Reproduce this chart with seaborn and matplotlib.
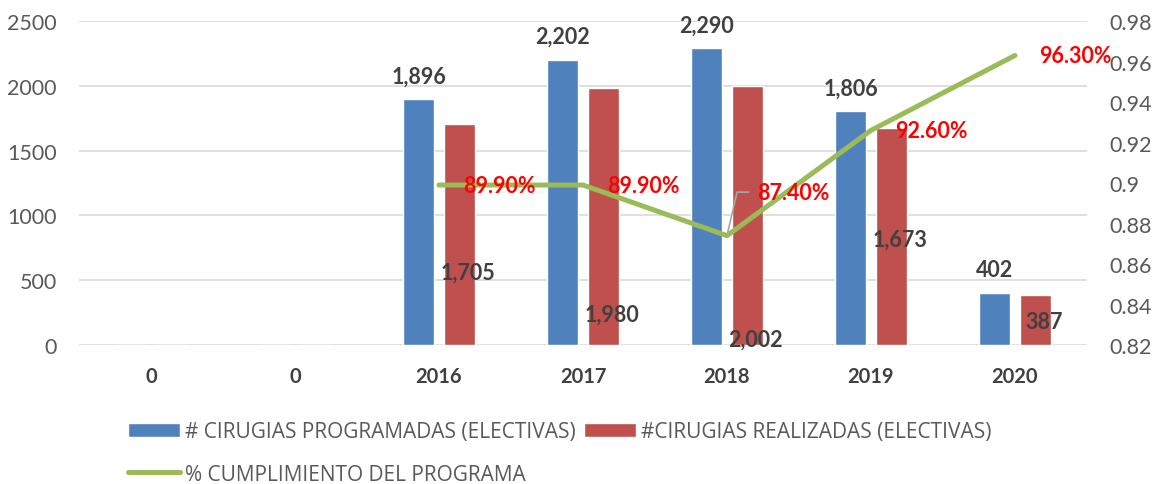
import matplotlib
matplotlib.use("Agg")
import matplotlib.pyplot as plt
import numpy as np
import pandas as pd
import seaborn as sns

# --- data ---
categories = ["0", "0", "2016", "2017", "2018", "2019", "2020"]
programadas = [0, 0, 1896, 2202, 2290, 1806, 402]
realizadas = [0, 0, 1705, 1980, 2002, 1673, 387]
pct_years = ["2016", "2017", "2018", "2019", "2020"]
cumplimiento = [0.899, 0.899, 0.874, 0.926, 0.963]

name_prog = "# CIRUGIAS PROGRAMADAS (ELECTIVAS)"
name_real = "#CIRUGIAS REALIZADAS (ELECTIVAS)"
name_pct = "% CUMPLIMIENTO DEL PROGRAMA"

# label placement (Excel put the red labels in odd places)
real_label_y = [None, None, 563, 239, 46, 818, 185]

blue = "#4F81BD"
red = "#C0504D"
green = "#9BBB59"
grey_text = "#595959"
dark_text = "#404040"

sns.set_style("white")
plt.rcParams["font.family"] = ["Lato", "DejaVu Sans"]

# long format, with unique keys so that the two "0" categories stay apart
keys = [f"k{i}" for i in range(len(categories))]
df = pd.concat(
    [
        pd.DataFrame({"key": keys, "value": programadas, "serie": name_prog}),
        pd.DataFrame({"key": keys, "value": realizadas, "serie": name_real}),
    ],
    ignore_index=True,
)

fig = plt.figure(figsize=(11.56, 4.85), dpi=100)
ax = fig.add_axes([0.0683, 0.2866, 0.872, 0.668])

sns.barplot(
    data=df,
    x="key",
    y="value",
    hue="serie",
    order=keys,
    palette=[blue, red],
    saturation=1,
    width=0.57,
    gap=0.23,
    ax=ax,
)
ax.set_xlim(-0.5, len(categories) - 0.5)
ax.set_ylim(0, 2500)
ax.set_yticks(range(0, 2501, 500))
ax.yaxis.grid(True, color="#D9D9D9", linewidth=1.2)
ax.set_axisbelow(True)
ax.set_xticks(range(len(categories)))
ax.set_xticklabels(categories, fontweight="bold", color=dark_text, fontsize=14.5)
ax.set_xlabel("")
ax.set_ylabel("")
ax.tick_params(axis="y", labelsize=15.5, labelcolor=grey_text, length=0, pad=16)
ax.tick_params(axis="x", length=0, pad=15)
for s in ax.spines.values():
    s.set_visible(False)

# value labels
for i, (p, r) in enumerate(zip(programadas, realizadas)):
    if p == 0:
        continue
    ax.annotate(f"{p:,}", (i - 0.14, p), xytext=(0, 9), textcoords="offset points",
                ha="center", va="bottom", fontsize=15.5, fontweight="bold", color=dark_text)
    ax.text(i + 0.2, real_label_y[i], f"{r:,}", ha="center", va="center",
            fontsize=15.5, fontweight="bold", color=dark_text)

# secondary axis with the percentage line
ax2 = ax.twinx()
x_pct = [len(categories) - len(pct_years) + i for i in range(len(pct_years))]
sns.lineplot(x=x_pct, y=cumplimiento, color=green, linewidth=3.6, ax=ax2,
             label=name_pct, solid_capstyle="round")
ax2.set_ylim(0.82, 0.98)
ticks2 = np.round(np.arange(0.82, 0.981, 0.02), 2)
ax2.set_yticks(ticks2)
ax2.set_yticklabels([f"{t:g}" for t in ticks2])
ax2.tick_params(axis="y", labelsize=15.5, labelcolor=grey_text, length=0, pad=16)
ax2.set_xlim(-0.5, len(categories) - 0.5)
for s in ax2.spines.values():
    s.set_visible(False)

for j, (xv, v) in enumerate(zip(x_pct, cumplimiento)):
    if j == 2:
        # leader line to a label that Excel moved up and right
        ax2.plot([xv, xv + 0.07, xv + 0.15], [v, v + 0.0215, v + 0.0215],
                 color="#A6A6A6", linewidth=1.2)
        ax2.text(xv + 0.46, v + 0.0215, f"{v * 100:.2f}%", ha="center", va="center",
                 fontsize=15.5, fontweight="bold", color="red")
    else:
        ax2.text(xv + 0.42, v, f"{v * 100:.2f}%",
                 ha="center", va="center", fontsize=15.5, fontweight="bold", color="red")

# legend below the plot (column-wise fill: blue/green in col 1, red in col 2)
h1, l1 = ax.get_legend_handles_labels()
h2, l2 = ax2.get_legend_handles_labels()
ax.get_legend().remove()
ax2.get_legend().remove()
fig.legend(
    [h1[0], h2[0], h1[1]],
    [l1[0], l2[0], l1[1]],
    ncol=2,
    loc="upper left",
    bbox_to_anchor=(128 / 1156, 0.129),
    frameon=False,
    borderpad=0,
    borderaxespad=0,
    prop={"family": ["Open Sans", "DejaVu Sans"], "size": 15},
    labelcolor=grey_text,
    handlelength=2.5,
    handleheight=0.67,
    handletextpad=0.24,
    columnspacing=0.38,
    labelspacing=1.02,
)

fig.savefig("out.png", dpi=100)
